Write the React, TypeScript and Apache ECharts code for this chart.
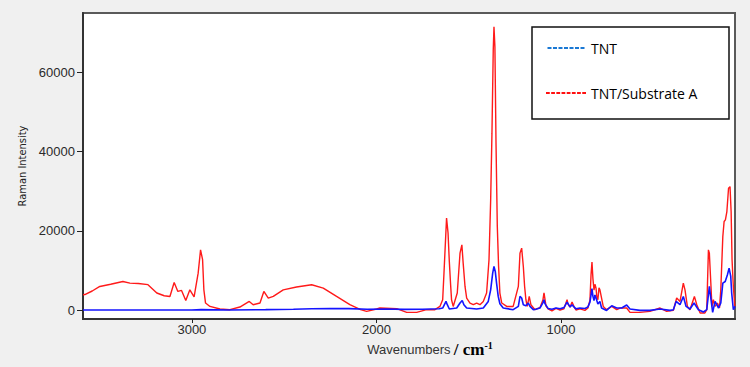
import React, { useEffect, useRef } from "react";
import * as echarts from "echarts";

// Wavenumber (cm-1), Raman intensity
const substrateSpectrum: [number, number][] = [
  [3590, 3850], [3580, 3900], [3540, 4800], [3499, 5950], [3440, 6500], [3374, 7200],
  [3336, 6800], [3290, 6700], [3238, 6400], [3190, 4300], [3150, 3600], [3119, 3400],
  [3096, 6950], [3076, 4700], [3056, 4950], [3033, 2400], [3011, 5100], [2988, 3300],
  [2966, 9300], [2953, 15200], [2942, 12700], [2935, 5100], [2926, 1760], [2902, 900],
  [2848, 250], [2794, 80], [2740, 750], [2689, 2170], [2668, 1340], [2631, 1760],
  [2610, 4690], [2586, 3000], [2559, 3430], [2505, 5100], [2433, 5800], [2351, 6380],
  [2288, 5540], [2216, 3430], [2144, 1340], [2086, 80], [2053, -350], [1999, 250],
  [1981, 500], [1890, 330], [1836, -600], [1782, -600], [1728, 80], [1683, 80],
  [1656, 900], [1641, 2600], [1634, 9300], [1620, 23200], [1612, 19500], [1605, 12250],
  [1598, 6380], [1593, 2600], [1584, 900], [1562, 4290], [1547, 14370], [1537, 16460],
  [1530, 11850], [1520, 5950], [1511, 3020], [1493, 1760], [1475, 1340], [1457, 1760],
  [1439, 1340], [1421, 2170], [1403, 4290], [1390, 12680], [1381, 27800], [1374, 44600],
  [1367, 65600], [1363, 71500], [1358, 66450], [1352, 42100], [1345, 21080], [1338, 11000],
  [1331, 4290], [1321, 1760], [1294, 900], [1259, 900], [1231, 5950], [1222, 14370],
  [1213, 15630], [1204, 11000], [1197, 5950], [1190, 2600], [1183, 900], [1172, 3430],
  [1163, 1340], [1141, 80], [1136, 200], [1114, 600], [1098, 2500], [1092, 4300],
  [1087, 2800], [1081, 1000], [1070, 300], [1049, -200], [1027, 400], [1005, 0],
  [984, 300], [973, 1800], [967, 2600], [962, 1500], [951, 700], [940, 2000],
  [929, 800], [919, 0], [897, 300], [870, -100], [854, 500], [843, 2500],
  [837, 9000], [832, 12100], [827, 8000], [821, 5000], [816, 6500], [810, 5500],
  [805, 3000], [800, 2600], [794, 5600], [789, 5100], [771, 900], [753, 80],
  [725, 900], [698, 80], [680, 500], [644, 500], [626, -600], [572, -600],
  [518, -350], [463, 500], [427, -350], [391, -100], [373, 3020], [355, 2170],
  [337, 6800], [328, 5100], [315, 900], [301, 80], [277, 3430], [264, 1340],
  [246, -760], [220, -760], [210, 80], [201, 15200], [196, 14370], [188, 6800],
  [182, 900], [174, 2600], [165, 900], [152, 1760], [141, 500], [134, 5100],
  [123, 18550], [116, 22340], [109, 22760], [101, 24860], [92, 30760], [84, 31160],
  [78, 24860], [73, 12680], [66, 5950], [58, 900],
];

const tntSpectrum: [number, number][] = [
  [3590, 0], [3300, 0], [3000, 0], [2950, 100], [2800, 0], [2600, 100], [2450, 200],
  [2350, 300], [2250, 400], [2150, 350], [2050, 200], [1950, 250], [1850, 150],
  [1750, 200], [1660, 300], [1641, 500], [1623, 2170], [1616, 1340], [1605, 250],
  [1565, 500], [1547, 1760], [1535, 2420], [1526, 1340], [1511, 500], [1457, 250],
  [1421, 500], [1394, 2170], [1381, 5100], [1370, 9330], [1363, 11000], [1356, 9740],
  [1349, 6800], [1340, 3430], [1331, 1590], [1313, 500], [1259, 80], [1231, 900],
  [1222, 3430], [1213, 3020], [1204, 1340], [1190, 1090], [1177, 1760], [1168, 900],
  [1150, 80], [1136, 200], [1114, 500], [1098, 1800], [1092, 2600], [1087, 1600],
  [1070, 400], [1049, 200], [1027, 500], [1005, 300], [984, 600], [967, 2000],
  [951, 800], [940, 1300], [919, 300], [897, 500], [870, 400], [854, 800],
  [843, 2000], [832, 5400], [827, 3500], [821, 2400], [816, 3800], [810, 3000],
  [800, 1500], [789, 2170], [780, 500], [753, -100], [725, 1080], [698, 500],
  [671, 500], [644, 1260], [626, 250], [572, -100], [518, -100], [463, 250],
  [409, -100], [391, 80], [376, 2170], [355, 1340], [337, 3430], [322, 900],
  [301, 250], [279, 1760], [255, 80], [228, -500], [210, 80], [196, 5950],
  [187, 2600], [178, -600], [165, 2170], [146, 500], [134, 1760], [123, 6800],
  [110, 7200], [98, 8900], [89, 10590], [80, 8470], [75, 4290], [66, 80], [57, 900],
];

const xTickValues = [1000, 2000, 3000];
const yTickValues = [0, 20000, 40000, 60000];
const seriesNames = ["TNT", "TNT/Substrate A"];

const dashIcon = (n: number) =>
  "path://" + Array.from({ length: n }, (_, i) => `M${i * 5.5} 0h4v2h-4z`).join("");

export default function App() {
  const ref = useRef<HTMLDivElement>(null);
  useEffect(() => {
    document.body.style.margin = "0";
    const chart = echarts.init(ref.current!, null, { renderer: "svg" });
    chart.setOption({
      animation: false,
      backgroundColor: "#f0f0f0",
      grid: {
        left: 83,
        right: 15,
        top: 13,
        bottom: 48,
        show: true,
        backgroundColor: "#ffffff",
        borderColor: "#5a5a5a",
        borderWidth: 2,
      },
      xAxis: {
        type: "value",
        inverse: true,
        min: 57,
        max: 3590,
        name: "{a|Wavenumbers} {b|/ cm}{c|-1}",
        nameLocation: "middle",
        nameGap: 16,
        nameTextStyle: {
          padding: [0, 0, 0, 42],
          rich: {
            a: { fontSize: 13, fontFamily: "Liberation Sans, Arial", color: "#333" },
            b: { fontSize: 17, fontFamily: "Liberation Serif, serif", fontWeight: "bold", color: "#000" },
            c: { fontSize: 10, fontFamily: "Liberation Serif, serif", fontWeight: "bold", color: "#000", verticalAlign: "top" },
          },
        },
        axisLine: { onZero: false, lineStyle: { color: "#333", width: 2 } },
        axisTick: { customValues: xTickValues, length: 4, lineStyle: { color: "#222" } },
        axisLabel: {
          customValues: xTickValues,
          formatter: (v: number) => String(v),
          margin: 4,
          fontSize: 13,
          fontFamily: "Liberation Sans, Arial",
          color: "#2a2a2a",
        },
        splitLine: { show: false },
      },
      yAxis: {
        type: "value",
        min: -2270,
        max: 75000,
        name: "Raman Intensity",
        nameLocation: "middle",
        nameGap: 53,
        nameTextStyle: {
          fontSize: 11,
          fontFamily: "Liberation Sans Narrow, DejaVu Sans Condensed, Arial",
          color: "#222",
        },
        axisLine: { show: true, lineStyle: { color: "#333", width: 2 } },
        axisTick: { show: true, customValues: yTickValues, length: 6, lineStyle: { color: "#222" } },
        axisLabel: {
          customValues: yTickValues,
          formatter: (v: number) => String(v),
          margin: 8,
          fontSize: 13,
          fontFamily: "Liberation Sans, Arial",
          color: "#2a2a2a",
        },
        splitLine: { show: false },
      },
      legend: {
        orient: "vertical",
        left: 546,
        top: 40,
        padding: 0,
        itemWidth: 40,
        itemHeight: 2,
        itemGap: 29,
        textStyle: { fontSize: 14, fontFamily: "Open Sans, Liberation Sans", color: "#000", lineHeight: 16 },
        data: [
          { name: seriesNames[0], icon: dashIcon(7), itemStyle: { color: "#1a78d4" } },
          { name: seriesNames[1], icon: dashIcon(8), itemStyle: { color: "#ff1010" } },
        ],
      },
      graphic: [
        {
          type: "rect",
          z: 3,
          shape: { x: 532, y: 27, width: 197, height: 92 },
          style: { fill: "#ffffff", stroke: "#111", lineWidth: 1.5 },
        },
      ],
      series: [
        {
          name: seriesNames[1],
          type: "line",
          data: substrateSpectrum,
          showSymbol: false,
          symbol: "none",
          lineStyle: { color: "#ff1a1a", width: 1.4 },
          itemStyle: { color: "#ff1a1a" },
        },
        {
          name: seriesNames[0],
          type: "line",
          data: tntSpectrum,
          showSymbol: false,
          symbol: "none",
          lineStyle: { color: "#1414ff", width: 1.6 },
          itemStyle: { color: "#1414ff" },
        },
      ],
    });
    return () => chart.dispose();
  }, []);
  return <div ref={ref} style={{ position: "absolute", left: 0, top: 0, width: 750, height: 367 }} />;
}
